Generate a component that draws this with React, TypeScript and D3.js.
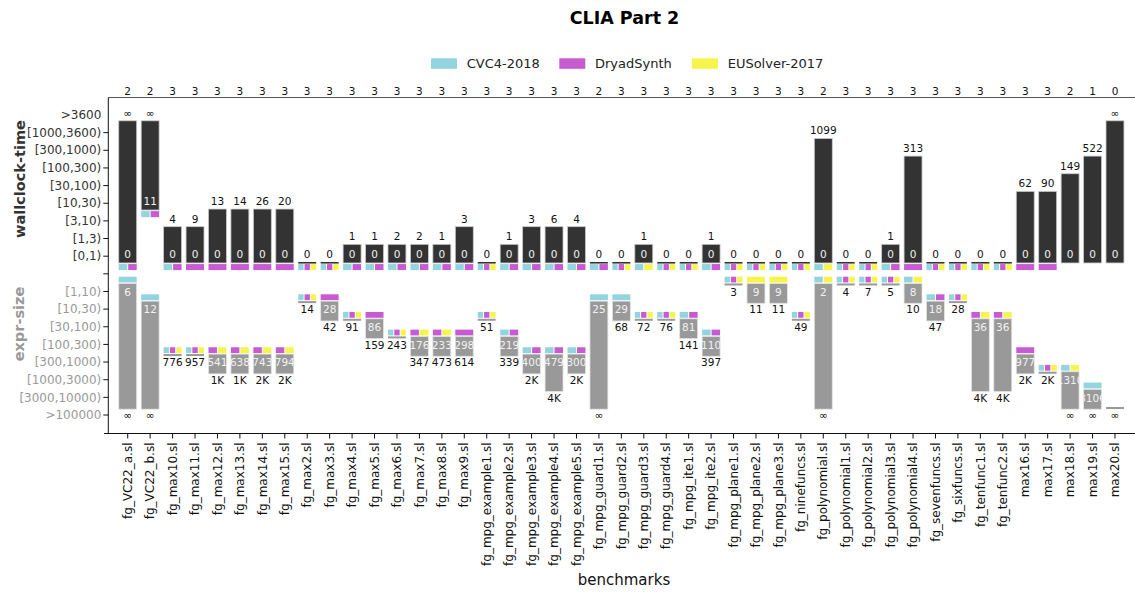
import React from "react";
import * as d3 from "d3";

const benchmarks = [
  "fg_VC22_a.sl", "fg_VC22_b.sl", "fg_max10.sl", "fg_max11.sl", "fg_max12.sl", "fg_max13.sl",
  "fg_max14.sl", "fg_max15.sl", "fg_max2.sl", "fg_max3.sl", "fg_max4.sl", "fg_max5.sl",
  "fg_max6.sl", "fg_max7.sl", "fg_max8.sl", "fg_max9.sl", "fg_mpg_example1.sl",
  "fg_mpg_example2.sl", "fg_mpg_example3.sl", "fg_mpg_example4.sl", "fg_mpg_example5.sl",
  "fg_mpg_guard1.sl", "fg_mpg_guard2.sl", "fg_mpg_guard3.sl", "fg_mpg_guard4.sl",
  "fg_mpg_ite1.sl", "fg_mpg_ite2.sl", "fg_mpg_plane1.sl", "fg_mpg_plane2.sl",
  "fg_mpg_plane3.sl", "fg_ninefuncs.sl", "fg_polynomial.sl", "fg_polynomial1.sl",
  "fg_polynomial2.sl", "fg_polynomial3.sl", "fg_polynomial4.sl", "fg_sevenfuncs.sl",
  "fg_sixfuncs.sl", "fg_tenfunc1.sl", "fg_tenfunc2.sl", "max16.sl", "max17.sl",
  "max18.sl", "max19.sl", "max20.sl",
];

const solvedCounts = [
  2, 2, 3, 3, 3, 3, 3, 3, 3, 3, 3, 3, 3, 3, 3, 3, 3, 3, 3, 3, 3, 2, 3, 3, 3, 3, 3, 3, 3, 3,
  3, 2, 3, 3, 3, 3, 3, 3, 3, 3, 3, 3, 2, 1, 0,
];

const solvers = ["CVC4-2018", "DryadSynth", "EUSolver-2017"];
const solverKeys = ["C", "D", "E"];
const solverColors = ["#93d4e1", "#c65bd2", "#f7f54b"];

const timeLevels = ["[0,1)", "[1,3)", "[3,10)", "[10,30)", "[30,100)", "[100,300)", "[300,1000)", "[1000,3600)", ">3600"];
const timeThresholds = [1, 3, 10, 30, 100, 300, 1000, 3600];
const sizeLevels = ["[1,10)", "[10,30)", "[30,100)", "[100,300)", "[300,1000)", "[1000,3000)", "[3000,10000)", ">100000"];
const sizeThresholds = [10, 30, 100, 300, 1000, 3000, 10000];

const INF = Infinity;

const timeMin = [
  0, 11, 0, 0, 0, 0, 0, 0, 0, 0, 0, 0, 0, 0, 0, 0, 0, 0, 0, 0, 0, 0, 0, 0, 0, 0, 0, 0, 0, 0,
  0, 0, 0, 0, 0, 0, 0, 0, 0, 0, 0, 0, 0, 0, 0,
];
const timeMax = [
  INF, INF, 4, 9, 13, 14, 26, 20, 0, 0, 1, 1, 2, 2, 1, 3, 0, 1, 3, 6, 4, 0, 0, 1, 0, 0, 1, 0, 0, 0,
  0, 1099, 0, 0, 1, 313, 0, 0, 0, 0, 62, 90, 149, 522, INF,
];
const timeBest = [
  "CD", "CD", "CD", "D", "D", "D", "D", "D", "CDE", "CDE", "CD", "CD", "CD", "CD", "CD", "CD",
  "CDE", "CD", "CD", "CD", "CD", "CD", "CDE", "CE", "CDE", "CDE", "CD", "CDE", "CDE", "CDE",
  "CDE", "CE", "CDE", "CDE", "CD", "D", "CDE", "CDE", "CDE", "CDE", "D", "D", "", "", "",
];

const sizeMin = [
  6, 12, 776, 957, 541, 638, 743, 794, 14, 28, 91, 86, 243, 176, 233, 298, 51, 219, 400, 479, 300,
  25, 29, 72, 76, 81, 110, 3, 9, 9, 49, 2, 4, 7, 5, 8, 18, 28, 36, 36, 977, 2200, 1310, 3106, INF,
];
const sizeMax = [
  INF, INF, 776, 957, 1150, 1250, 1600, 1700, 14, 42, 91, 159, 243, 347, 473, 614, 51, 339, 1900,
  3800, 2100, INF, 68, 72, 76, 141, 397, 3, 11, 11, 49, INF, 4, 7, 5, 10, 47, 28, 3700, 3900, 1800,
  2200, INF, INF, INF,
];
const sizeBest = [
  "C", "C", "CDE", "CDE", "DE", "DE", "DE", "DE", "CDE", "D", "CDE", "D", "CDE", "DE", "DE", "D",
  "CDE", "CD", "CD", "CD", "CD", "C", "C", "CDE", "CDE", "CD", "CD", "CDE", "E", "E", "CDE", "CE",
  "CDE", "CDE", "CDE", "CE", "CD", "CDE", "DE", "DE", "D", "CDE", "CE", "C", "",
];

const FONT = "'DejaVu Sans', Verdana, sans-serif";

function binTime(v: number) {
  return v === INF ? timeLevels.length - 1 : d3.bisectRight(timeThresholds, v);
}
function binSize(v: number) {
  return v === INF ? sizeLevels.length - 1 : d3.bisectRight(sizeThresholds, v);
}
function fmtFull(v: number) {
  return v === INF ? "∞" : String(v);
}
function fmtShort(v: number) {
  if (v === INF) return "∞";
  if (v >= 1000) return Math.round(v / 1000) + "K";
  return String(v);
}

export default function App() {
  const W = 1135;
  const H = 592;
  const axisX = 108.3;
  const topLineY = 97.5;
  const bottomLineY = 433.5;

  const tKey = (k: number) => "t" + k;
  const sKey = (k: number) => "s" + k;
  const yRows = [
    ...timeLevels.map((l, k) => ({ key: tKey(k), label: l, upper: true })).reverse(),
    { key: "gap", label: "", upper: true },
    ...sizeLevels.map((l, k) => ({ key: sKey(k), label: l, upper: false })),
  ];
  const y = d3.scalePoint<string>().domain(yRows.map((r) => r.key)).range([115, 415]);

  const x = d3
    .scaleBand<string>()
    .domain(benchmarks)
    .range([114.25, 1128.45])
    .paddingInner(0.2)
    .paddingOuter(0.2);
  const bw = x.bandwidth();

  const squares = (best: string, x0: number, yy: number, h: number, key: string) => {
    const idx = best.split("").map((c) => solverKeys.indexOf(c));
    const n = idx.length;
    if (!n) return null;
    const gap = 1;
    const sw = (bw - gap * (n - 1)) / n;
    return idx.map((s, k) => (
      <rect
        key={key + k}
        x={x0 + k * (sw + gap)}
        y={yy}
        width={sw}
        height={h}
        fill={solverColors[s]}
      />
    ));
  };

  const labelSize = 10.5;

  const geom = benchmarks.map((b, i) => {
    const x0 = x(b)!;
    const tMin = binTime(timeMin[i]);
    const tMax = binTime(timeMax[i]);
    const sMin = binSize(sizeMin[i]);
    const sMax = binSize(sizeMax[i]);
    const yTMin = y(tKey(tMin))!;
    const yTMax = y(tKey(tMax))!;
    const ySMin = y(sKey(sMin))!;
    const ySMax = y(sKey(sMax))!;
    return {
      x0,
      cx: x0 + bw / 2,
      yTMin,
      yTMax,
      ySMin,
      ySMax,
      uTop: yTMax + 5.8,
      uBot: yTMin + 6.8,
      lTop: ySMin - 8,
      lBot: ySMax - 5.8,
      tSingle: tMin === tMax,
      sSingle: sMin === sMax,
    };
  });

  return (
    <div>
      <style>{`body{margin:0}`}</style>
      <svg width={W} height={H} style={{ display: "block", fontFamily: FONT }}>
        <rect x={0} y={0} width={W} height={H} fill="#fff" />
        <defs>
          {geom.map((g, i) => (
            <g key={"cp" + i}>
              <clipPath id={`cu${i}`}>
                <rect x={g.x0} y={g.uTop} width={bw} height={g.uBot - g.uTop} />
              </clipPath>
              <clipPath id={`cl${i}`}>
                <rect x={g.x0} y={g.lTop} width={bw} height={g.lBot - g.lTop} />
              </clipPath>
            </g>
          ))}
        </defs>

        {/* title */}
        <text x={624.5} y={24} textAnchor="middle" fontSize={17.5} fontWeight="bold" fill="#000">
          CLIA Part 2
        </text>

        {/* legend */}
        {solvers.map((s, k) => {
          const lx = [431, 559.3, 692][k];
          return (
            <g key={s}>
              <rect x={lx} y={58.3} width={26} height={10.5} fill={solverColors[k]} />
              <text x={lx + 35.7} y={68.3} fontSize={13} fill="#222">
                {s}
              </text>
            </g>
          );
        })}

        {/* top axis with solved counts */}
        <line x1={axisX} x2={W} y1={topLineY} y2={topLineY} stroke="#555" strokeWidth={1} />
        {benchmarks.map((b, i) => (
          <text
            key={"c" + b}
            x={geom[i].cx}
            y={95}
            textAnchor="middle"
            fontSize={labelSize}
            fill="#111"
          >
            {solvedCounts[i]}
          </text>
        ))}

        {/* y axis */}
        <line x1={axisX} x2={axisX} y1={topLineY} y2={bottomLineY} stroke="#111" strokeWidth={1} />
        {yRows.map((r) => {
          const yy = y(r.key)!;
          return (
            <g key={"yt" + r.key}>
              {r.label !== ">3600" && (
                <line x1={axisX - 5} x2={axisX} y1={yy} y2={yy} stroke="#111" strokeWidth={1} />
              )}
              <text
                x={axisX - 7}
                y={yy}
                dy="0.35em"
                textAnchor="end"
                fontSize={12}
                fill={r.upper ? "#333" : "#999"}
              >
                {r.label}
              </text>
            </g>
          );
        })}
        <text
          transform={`translate(25,179) rotate(-90)`}
          textAnchor="middle"
          fontSize={14.5}
          fontWeight="bold"
          fill="#333"
        >
          wallclock-time
        </text>
        <text
          transform={`translate(24,324) rotate(-90)`}
          textAnchor="middle"
          fontSize={14.5}
          fontWeight="bold"
          fill="#999"
        >
          expr-size
        </text>

        {/* bars */}
        {benchmarks.map((b, i) => {
          const g = geom[i];
          return (
            <g key={"b" + b}>
              {/* upper: time */}
              {g.tSingle ? (
                <rect x={g.x0} y={g.yTMin + 5.8} width={bw} height={1.6} fill="#333" />
              ) : (
                <rect
                  x={g.x0}
                  y={g.uTop}
                  width={bw}
                  height={g.uBot - g.uTop}
                  fill="#333"
                  stroke="#c8c8c8"
                  strokeWidth={0.8}
                />
              )}
              <text x={g.cx} y={g.yTMax - 2} dy="0.35em" textAnchor="middle" fontSize={labelSize} fill="#111">
                {fmtFull(timeMax[i])}
              </text>
              {!g.tSingle && (
                <text
                  x={g.cx}
                  y={g.yTMin - 2}
                  dy="0.35em"
                  textAnchor="middle"
                  fontSize={labelSize}
                  fill="#f2f2f2"
                  clipPath={`url(#cu${i})`}
                >
                  {fmtFull(timeMin[i])}
                </text>
              )}
              {squares(timeBest[i], g.x0, g.yTMin + 7.9, 6, "ts" + i)}

              {/* lower: size */}
              {g.sSingle ? (
                <rect x={g.x0} y={g.ySMin - 8} width={bw} height={2} fill="#999" />
              ) : (
                <rect
                  x={g.x0}
                  y={g.lTop}
                  width={bw}
                  height={g.lBot - g.lTop}
                  fill="#999"
                  stroke="#e4e4e4"
                  strokeWidth={0.8}
                />
              )}
              {!g.sSingle && (
                <text
                  x={g.cx}
                  y={g.ySMin + 0.5}
                  dy="0.35em"
                  textAnchor="middle"
                  fontSize={labelSize}
                  fill="#f2f2f2"
                  clipPath={`url(#cl${i})`}
                >
                  {fmtFull(sizeMin[i])}
                </text>
              )}
              <text x={g.cx} y={g.ySMax + 0.5} dy="0.35em" textAnchor="middle" fontSize={labelSize} fill="#111">
                {fmtShort(sizeMax[i])}
              </text>
              {squares(sizeBest[i], g.x0, g.ySMin - 14.8, 5.8, "ss" + i)}
            </g>
          );
        })}

        {/* bottom axis */}
        <line x1={104} x2={W} y1={bottomLineY} y2={bottomLineY} stroke="#111" strokeWidth={1} />
        {benchmarks.map((b, i) => {
          const cx = geom[i].cx;
          return (
            <g key={"xt" + b}>
              <line x1={cx} x2={cx} y1={bottomLineY} y2={bottomLineY + 5} stroke="#111" strokeWidth={1} />
              <text
                transform={`translate(${cx},${bottomLineY + 9}) rotate(-90)`}
                dy="0.35em"
                textAnchor="end"
                fontSize={12}
                fill="#111"
              >
                {b}
              </text>
            </g>
          );
        })}
        <text x={624} y={585} textAnchor="middle" fontSize={15} fill="#111">
          benchmarks
        </text>
      </svg>
    </div>
  );
}
